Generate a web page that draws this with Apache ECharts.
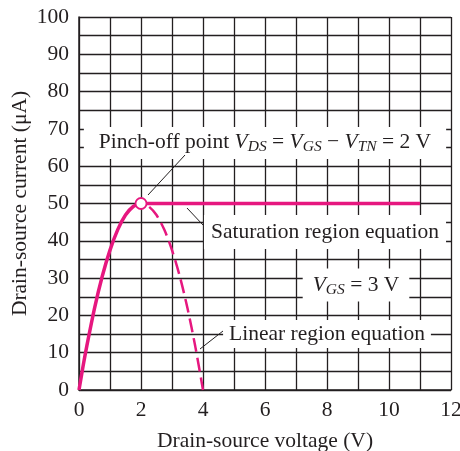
<!DOCTYPE html>
<html>
<head>
<meta charset="utf-8">
<script src="https://cdn.jsdelivr.net/npm/echarts@6/dist/echarts.min.js"></script>
<style>
  html, body { margin: 0; padding: 0; background: #fff; }
  #myChart { width: 460px; height: 451px; }
</style>
</head>
<body>
<div id="myChart"></div>
<script>
// values
var linearV = [0, 0.125, 0.25, 0.5, 0.75, 1, 1.25, 1.5, 1.75, 2];
var linearI = [0, 6.1, 11.7, 21.9, 30.5, 37.5, 43.0, 46.9, 49.2, 50];
var dashedV = [2, 2.25, 2.5, 2.75, 3, 3.25, 3.5, 3.75, 4];
var dashedI = [50, 49.2, 46.9, 43.0, 37.5, 30.5, 21.9, 11.7, 0];
var satV = [2, 11];
var satI = [50, 50];
var pinchPoint = [2, 50];

var pink = '#e6177f';
var ink = '#231f20';
var serif = '"Liberation Serif", "DejaVu Serif", serif';
var fs = 21.5;

function zip(a, b) {
    var out = [];
    for (var i = 0; i < a.length; i++) {
        out.push([a[i], b[i]]);
    }
    return out;
}

var myChart = echarts.init(document.getElementById('myChart'));

// rich text pieces for italic V with subscripts
var rich = {
    i: { fontFamily: serif, fontSize: fs, fontStyle: 'italic', color: ink },
    s: { fontFamily: serif, fontSize: 15.5, fontStyle: 'italic', color: ink, padding: [9, 0, 0, 0] }
};

function label(x, y, text, pad) {
    return {
        type: 'text',
        x: x,
        y: y,
        z: 100,
        style: {
            text: text,
            rich: rich,
            fontFamily: serif,
            fontSize: fs,
            fill: ink,
            align: 'center',
            verticalAlign: 'middle',
            backgroundColor: '#fff',
            padding: pad
        }
    };
}

function leader(x1, y1, x2, y2) {
    return {
        type: 'line',
        z: 100,
        shape: { x1: x1, y1: y1, x2: x2, y2: y2 },
        style: { stroke: ink, lineWidth: 1 }
    };
}

var option = {
    backgroundColor: '#fff',
    animation: false,
    grid: {
        left: 79,
        top: 17,
        width: 372,
        height: 373,
        outerBoundsMode: 'none',
        show: false
    },
    xAxis: {
        type: 'value',
        min: 0,
        max: 12,
        interval: 1,
        name: 'Drain-source voltage (V)',
        nameLocation: 'middle',
        nameGap: 40,
        nameTextStyle: { fontFamily: serif, fontSize: fs, color: ink },
        axisLine: { show: true, lineStyle: { color: ink, width: 1.5 } },
        axisTick: { show: false },
        splitLine: { show: true, lineStyle: { color: ink, width: 1.3 } },
        axisLabel: {
            fontFamily: serif,
            fontSize: fs,
            color: ink,
            margin: 9,
            hideOverlap: false,
            formatter: function (v) { return v % 2 === 0 ? String(v) : ''; }
        }
    },
    yAxis: {
        type: 'value',
        min: 0,
        max: 100,
        interval: 5,
        name: 'Drain-source current (μA)',
        nameLocation: 'middle',
        nameGap: 48,
        nameMoveOverlap: false,
        nameTextStyle: { fontFamily: serif, fontSize: fs, color: ink },
        axisLine: { show: true, lineStyle: { color: ink, width: 1.5 } },
        axisTick: { show: false },
        splitLine: { show: true, lineStyle: { color: ink, width: 1.3 } },
        axisLabel: {
            fontFamily: serif,
            fontSize: fs,
            color: ink,
            margin: 10,
            hideOverlap: false,
            formatter: function (v) { return v % 10 === 0 ? String(v) : ''; }
        }
    },
    series: [
        {
            type: 'line',
            data: zip(linearV, linearI),
            smooth: 0.3,
            showSymbol: false,
            lineStyle: { color: pink, width: 3.5 },
            z: 5
        },
        {
            type: 'line',
            data: zip(dashedV, dashedI),
            smooth: 0.3,
            showSymbol: false,
            lineStyle: { color: pink, width: 2.5, type: [14, 6], dashOffset: -9 },
            z: 5
        },
        {
            type: 'line',
            data: zip(satV, satI),
            showSymbol: false,
            lineStyle: { color: pink, width: 3.5 },
            z: 5
        },
        {
            type: 'scatter',
            data: [pinchPoint],
            symbol: 'circle',
            symbolSize: 11,
            itemStyle: { color: '#fff', borderColor: pink, borderWidth: 1.8, opacity: 1 },
            z: 10
        }
    ],
    graphic: [
        label(265, 143, 'Pinch-off point {i|V}{s|DS} = {i|V}{s|GS} − {i|V}{s|TN} = 2 V', [3, 15, 4, 15]),
        label(325, 232, 'Saturation region equation', [6, 7, 6, 7]),
        label(356, 285, '{i|V}{s|GS} = 3 V', [4, 10, 4, 10]),
        label(327, 334, 'Linear region equation', [3, 6, 3, 6]),
        leader(148, 195, 185, 155),
        leader(187, 208, 203, 225),
        leader(223, 331, 200, 349)
    ]
};

myChart.setOption(option);
</script>
</body>
</html>
